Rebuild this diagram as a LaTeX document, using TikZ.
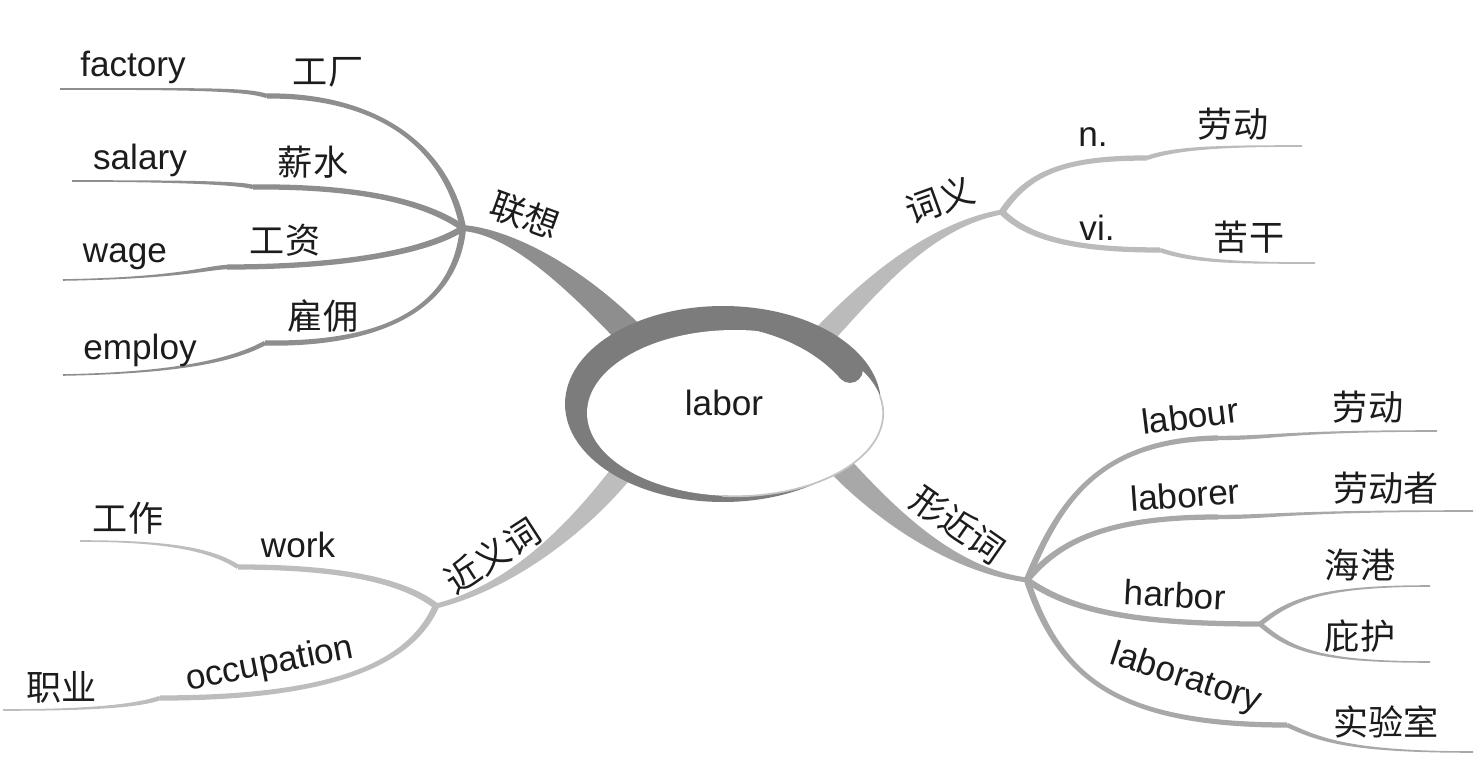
\documentclass[tikz,border=0pt]{standalone}
\usepackage{fontspec}
\setsansfont{Liberation Sans}
\newfontfamily\cjk{Noto Sans CJK SC}
\usetikzlibrary{calc}
\definecolor{ink}{HTML}{1C1C1C}
\definecolor{ringc}{HTML}{7C7C7C}
\definecolor{edgec}{HTML}{C4C4C4}
\definecolor{assocc}{HTML}{8E8E8E}
\definecolor{meanc}{HTML}{BBBBBB}
\definecolor{sync}{HTML}{BDBDBD}
\definecolor{formc}{HTML}{A8A8A8}

% tapered branch: colour, start, control, control, end, half width at start, half width at end
\newcommand\taper[7]{%
  \coordinate (ta1) at ($(#2)!#6!90:(#3)$);
  \coordinate (ta2) at ($(#2)!#6!-90:(#3)$);
  \coordinate (td1) at ($(#5)!#7!-90:(#4)$);
  \coordinate (td2) at ($(#5)!#7!90:(#4)$);
  \fill[#1] (ta1) .. controls ($(#3)+(ta1)-(#2)$) and ($(#4)+(td1)-(#5)$) .. (td1)
    -- (td2) .. controls ($(#4)+(td2)-(#5)$) and ($(#3)+(ta2)-(#2)$) .. (ta2) -- cycle;
}

\tikzset{
  enword/.style={font=\fontsize{20}{24}\selectfont\sffamily, text=ink, inner sep=0pt},
  zhword/.style={font=\fontsize{20}{24}\selectfont\cjk, text=ink, inner sep=0pt}
}

\begin{document}
\begin{tikzpicture}[x=0.02cm, y=-0.02cm, font=\sffamily]

\fill[white] (0,0) rectangle (1484,780);
\useasboundingbox (0,0) rectangle (1484,780);

% Centre and forks
\coordinate (hub) at (723,404);
\coordinate (fassoc) at (463,228);
\coordinate (fmean) at (1002,212);
\coordinate (fsyn) at (436,606);
\coordinate (fform) at (1027,580);
\coordinate (fharb) at (1260,624);

% Roots under the ring
\coordinate (ra) at (645,350);
\coordinate (rb) at (815,345);
\coordinate (rc) at (630,462);
\coordinate (rd) at (830,455);
\coordinate (tailend) at (850,370);

% Steps and leaf ends
\coordinate (sfac) at (267,96);   \coordinate (efac) at (60,89);
\coordinate (ssal) at (253,187);  \coordinate (esal) at (72,181);
\coordinate (swag) at (227,267);  \coordinate (ewag) at (63,280);
\coordinate (semp) at (265,343);  \coordinate (eemp) at (63,375);
\coordinate (snoun) at (1147,158); \coordinate (enoun) at (1302,146);
\coordinate (sverb) at (1160,250); \coordinate (everb) at (1315,263);
\coordinate (swork) at (238,567); \coordinate (ework) at (80,541);
\coordinate (socc) at (160,698);  \coordinate (eocc) at (3,710);
\coordinate (slab) at (1218,438); \coordinate (elab) at (1437,431);
\coordinate (slabr) at (1218,517); \coordinate (elabr) at (1473,511);
\coordinate (eport) at (1430,586); \coordinate (eshel) at (1430,662);
\coordinate (slaby) at (1287,725); \coordinate (elaby) at (1473,752);

% Main branches
\taper{assocc}{ra}{575,275}{510,232}{fassoc}{8pt}{1.7pt}
\taper{meanc}{rb}{870,285}{930,225}{fmean}{6.2pt}{1.4pt}
\taper{sync}{rc}{590,515}{520,585}{fsyn}{6.2pt}{1.4pt}
\taper{formc}{rd}{880,510}{950,570}{fform}{6.8pt}{1.4pt}

% Association twigs
\taper{assocc}{fassoc}{445,140}{370,95}{sfac}{1.8pt}{1.5pt}
\taper{assocc}{sfac}{245,89}{200,89}{efac}{1.25pt}{0.45pt}
\taper{assocc}{fassoc}{430,205}{370,186}{ssal}{1.8pt}{1.5pt}
\taper{assocc}{ssal}{240,183}{180,181}{esal}{1.25pt}{0.45pt}
\taper{assocc}{fassoc}{430,250}{350,267}{swag}{1.8pt}{1.5pt}
\taper{assocc}{swag}{205,268}{180,278}{ewag}{1.25pt}{0.45pt}
\taper{assocc}{fassoc}{455,310}{380,345}{semp}{1.8pt}{1.5pt}
\taper{assocc}{semp}{230,362}{170,373}{eemp}{1.25pt}{0.45pt}

% Meaning twigs
\taper{meanc}{fmean}{1030,170}{1070,158}{snoun}{1.8pt}{1.5pt}
\taper{meanc}{snoun}{1175,148}{1220,146}{enoun}{1.25pt}{0.45pt}
\taper{meanc}{fmean}{1030,240}{1080,250}{sverb}{1.8pt}{1.5pt}
\taper{meanc}{sverb}{1195,262}{1240,263}{everb}{1.25pt}{0.45pt}

% Synonym twigs
\taper{sync}{fsyn}{400,578}{330,567}{swork}{1.8pt}{1.5pt}
\taper{sync}{swork}{210,548}{160,541}{ework}{1.25pt}{0.45pt}
\taper{sync}{fsyn}{410,665}{330,698}{socc}{1.8pt}{1.5pt}
\taper{sync}{socc}{140,705}{100,710}{eocc}{1.25pt}{0.45pt}

% Look-alike twigs
\taper{formc}{fform}{1060,500}{1100,440}{slab}{1.8pt}{1.5pt}
\taper{formc}{slab}{1275,438}{1285,431}{elab}{1.25pt}{0.45pt}
\taper{formc}{fform}{1060,540}{1110,517}{slabr}{1.8pt}{1.5pt}
\taper{formc}{slabr}{1275,517}{1285,511}{elabr}{1.25pt}{0.45pt}
\taper{formc}{fform}{1070,610}{1130,624}{fharb}{1.8pt}{1.5pt}
\taper{formc}{fharb}{1290,600}{1320,586}{eport}{1.35pt}{0.45pt}
\taper{formc}{fharb}{1290,650}{1320,662}{eshel}{1.35pt}{0.45pt}
\taper{formc}{fform}{1060,680}{1120,725}{slaby}{1.8pt}{1.5pt}
\taper{formc}{slaby}{1320,740}{1350,752}{elaby}{1.25pt}{0.45pt}

% Ring round the key word
\fill[ringc] (hub) ellipse [x radius=3.16cm, y radius=1.96cm];
\fill[white] (735,413) ellipse [x radius=2.96cm, y radius=1.66cm];
\draw[edgec, line width=1pt] (880,396) arc [start angle=12, end angle=-95, x radius=2.96cm, y radius=1.66cm];
\taper{ringc}{712,322}{780,326}{830,347}{tailend}{1.2pt}{7.35pt}
\fill[ringc] (tailend) circle (7.35pt);
\node[enword] (labor) at (724,403) {labor};

% Branch labels
\node[zhword, rotate=-20] (assoc) at (525,215) {联想};
\node[zhword, rotate=20] (mean) at (940,200) {词义};
\node[zhword, rotate=33] (syn) at (492,556) {近义词};
\node[zhword, rotate=-35] (form) at (958,525) {形近词};

% Association leaves
\node[enword] (factory) at (133,67) {factory};
\node[zhword] (factoryzh) at (328,72) {工厂};
\node[enword] (salary) at (140,160) {salary};
\node[zhword] (salaryzh) at (313,162) {薪水};
\node[enword] (wage) at (125,257) {wage};
\node[zhword] (wagezh) at (285,240) {工资};
\node[enword] (employ) at (140,350) {employ};
\node[zhword] (employzh) at (323,316) {雇佣};

% Meaning leaves
\node[enword] (noun) at (1093,137) {n.};
\node[zhword] (nounzh) at (1233,124) {劳动};
\node[enword] (verb) at (1097,228) {vi.};
\node[zhword] (verbzh) at (1249,237) {苦干};

% Synonym leaves
\node[zhword] (workzh) at (128,518) {工作};
\node[enword] (work) at (298,545) {work};
\node[zhword] (occzh) at (62,687) {职业};
\node[enword, rotate=11] (occ) at (270,665) {occupation};

% Look-alike leaves
\node[enword, rotate=7] (labour) at (1190,416) {labour};
\node[zhword] (labourzh) at (1368,407) {劳动};
\node[enword, rotate=4] (laborer) at (1185,495) {laborer};
\node[zhword] (laborerzh) at (1386,488) {劳动者};
\node[enword, rotate=-3] (harbor) at (1175,595) {harbor};
\node[zhword] (portzh) at (1360,565) {海港};
\node[zhword] (shelzh) at (1360,636) {庇护};
\node[enword, rotate=-18] (laby) at (1186,679) {laboratory};
\node[zhword] (labyzh) at (1386,722) {实验室};

\end{tikzpicture}
\end{document}
